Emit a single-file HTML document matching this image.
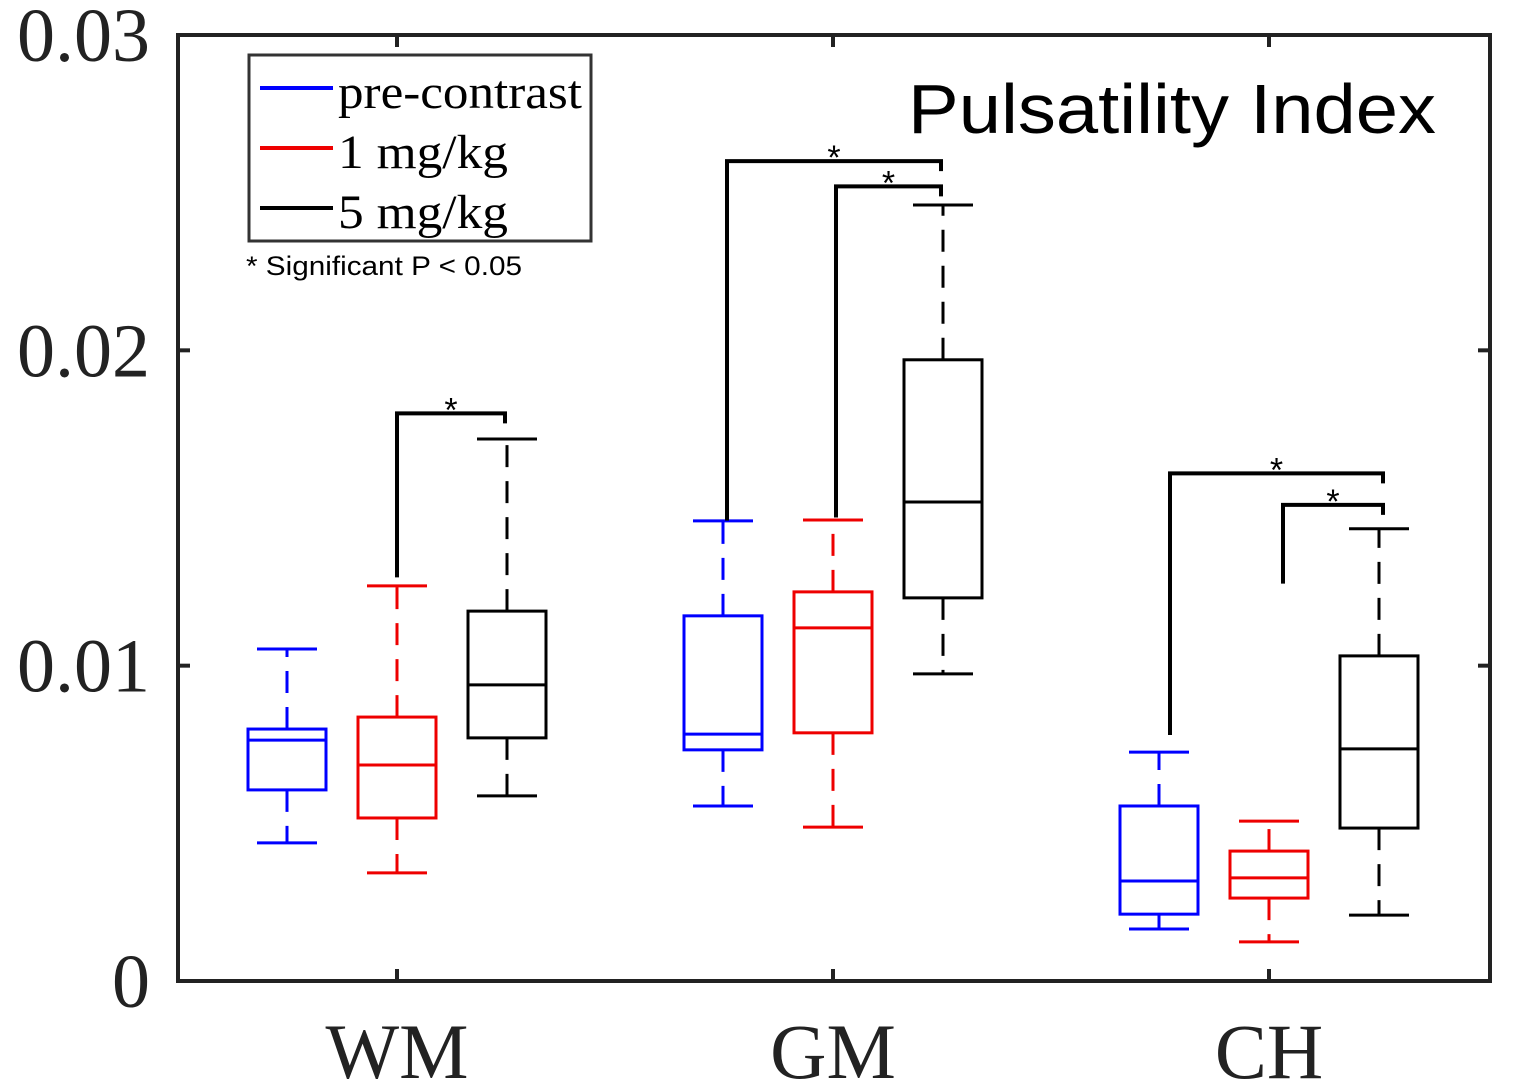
<!DOCTYPE html>
<html><head><meta charset="utf-8"><style>
html,body{margin:0;padding:0;background:#fff;}
svg{display:block;}
</style></head><body>
<svg id="chart" width="1517" height="1089" viewBox="0 0 1517 1089" xmlns="http://www.w3.org/2000/svg">
<g id="marks"></g>
<rect x="178" y="35" width="1312" height="946" fill="none" stroke="#222" stroke-width="4"/>
<g id="axes"></g>
<g>
<rect x="249" y="55" width="342" height="186" fill="#fff" stroke="#333" stroke-width="3"/>
<line x1="260" y1="88" x2="333" y2="88" stroke="#0000ff" stroke-width="4"/>
<text x="338" y="108" font-family="Liberation Serif, serif" font-size="48" textLength="244" lengthAdjust="spacingAndGlyphs">pre-contrast</text>
<line x1="260" y1="148" x2="333" y2="148" stroke="#ee0000" stroke-width="4"/>
<text x="338" y="168" font-family="Liberation Serif, serif" font-size="48" textLength="170" lengthAdjust="spacingAndGlyphs">1 mg/kg</text>
<line x1="260" y1="208" x2="333" y2="208" stroke="#000" stroke-width="4"/>
<text x="338" y="228" font-family="Liberation Serif, serif" font-size="48" textLength="170" lengthAdjust="spacingAndGlyphs">5 mg/kg</text>
</g>
<text x="246" y="275" font-family="Liberation Sans, sans-serif" font-size="27" textLength="276" lengthAdjust="spacingAndGlyphs">* Significant P &lt; 0.05</text>
<text x="908" y="133" font-family="Liberation Sans, sans-serif" font-size="70" textLength="528" lengthAdjust="spacingAndGlyphs">Pulsatility Index</text>
</svg>
<script>
const categories = ["WM","GM","CH"];
const seriesNames = ["pre-contrast","1 mg/kg","5 mg/kg"];
const seriesColors = ["#0000ff","#ee0000","#000000"];
const yTicks = [0, 0.01, 0.02, 0.03];
const yTickLabels = ["0","0.01","0.02","0.03"];
// [low whisker, q1, median, q3, high whisker] per category per series
const preContrast = [[0.00438,0.00606,0.00764,0.00799,0.01053],[0.00555,0.00733,0.00783,0.01158,0.01459],[0.00165,0.00212,0.00317,0.00555,0.00726]];
const mg1 = [[0.00343,0.00517,0.00685,0.00837,0.01253],[0.00488,0.00787,0.0112,0.01234,0.01462],[0.00124,0.00263,0.00327,0.00412,0.00507]];
const mg5 = [[0.00587,0.00771,0.00939,0.01173,0.01719],[0.00974,0.01215,0.01519,0.0197,0.02461],[0.00209,0.00485,0.00736,0.01031,0.01434]];
const seriesData = [preContrast, mg1, mg5];
// significance brackets: [category, fromSeries, toSeries, startValue, barValue]
const sigBrackets = [[0,1,2,0.0128,0.0180],[1,0,2,0.0146,0.0260],[1,1,2,0.0147,0.0252],[2,0,2,0.0078,0.0161],[2,1,2,0.0126,0.0151]];
const bracketOffsets = [[0,-2],[4,-2],[3,-2],[11,4],[14,4]];

const X0=178,X1=1490,Y0=981,Y1=35;
const yScale=v=>Y0-(v/0.03)*(Y0-Y1);
const catX=i=>397+i*436;
const offX=s=>(s-1)*110;
const NS="http://www.w3.org/2000/svg";
const marks=document.getElementById('marks');
const axes=document.getElementById('axes');
function mk(tag,attrs,parent){const e=document.createElementNS(NS,tag);for(const k in attrs)e.setAttribute(k,attrs[k]);parent.appendChild(e);return e;}

yTicks.forEach((t,i)=>{
  const y=yScale(t);
  let l=mk('line',{x1:X0,y1:y,x2:X0+12,y2:y,stroke:'#222','stroke-width':4},axes);
  
  
  l=mk('line',{x1:X1-12,y1:y,x2:X1,y2:y,stroke:'#222','stroke-width':4},axes);
  
  
  const tx=mk('text',{x:150,y:y+26,'text-anchor':'end','font-family':'Liberation Serif, serif','font-size':76,fill:'#222'},axes);
  tx.textContent=yTickLabels[i];
  
  
});
categories.forEach((c,i)=>{
  const x=catX(i);
  let l=mk('line',{x1:x,y1:Y0,x2:x,y2:Y0-12,stroke:'#222','stroke-width':4},axes);
  
  
  l=mk('line',{x1:x,y1:Y1,x2:x,y2:Y1+12,stroke:'#222','stroke-width':4},axes);
  
  
  const tx=mk('text',{x:x,y:1078,'text-anchor':'middle','font-family':'Liberation Serif, serif','font-size':78,fill:'#222'},axes);
  tx.textContent=c;
  
  
});

seriesData.forEach((ser,s)=>{
  ser.forEach((d,i)=>{
    const cx=catX(i)+offX(s), col=seriesColors[s], hw=39, cw=30;
    const g=mk('g',{},marks);
    
    
    const [lo,q1,md,q3,hi]=d.map(yScale);
    mk('line',{x1:cx,y1:q3,x2:cx,y2:hi,stroke:col,'stroke-width':3,'stroke-dasharray':'22,14'},g);
    mk('line',{x1:cx,y1:q1,x2:cx,y2:lo,stroke:col,'stroke-width':3,'stroke-dasharray':'22,14'},g);
    mk('line',{x1:cx-cw,y1:hi,x2:cx+cw,y2:hi,stroke:col,'stroke-width':3},g);
    mk('line',{x1:cx-cw,y1:lo,x2:cx+cw,y2:lo,stroke:col,'stroke-width':3},g);
    mk('rect',{x:cx-hw,y:q3,width:2*hw,height:q1-q3,fill:'none',stroke:col,'stroke-width':3},g);
    mk('line',{x1:cx-hw,y1:md,x2:cx+hw,y2:md,stroke:col,'stroke-width':3},g);
  });
});

sigBrackets.forEach((b,k)=>{
  const [c,f,t,sv,bv]=b;
  const xa=catX(c)+offX(f)+bracketOffsets[k][0], xb=catX(c)+offX(t)+bracketOffsets[k][1];
  const ys=yScale(sv), yb=yScale(bv);
  const g=mk('g',{},marks);
  
  
  mk('polyline',{points:`${xa},${ys} ${xa},${yb} ${xb},${yb} ${xb},${yb+10}`,fill:'none',stroke:'#000','stroke-width':4},g);
  const st=mk('text',{x:(xa+xb)/2,y:yb+8,'text-anchor':'middle','font-family':'Liberation Sans, sans-serif','font-size':34},g);
  st.textContent='*';
});
</script>
</body></html>
